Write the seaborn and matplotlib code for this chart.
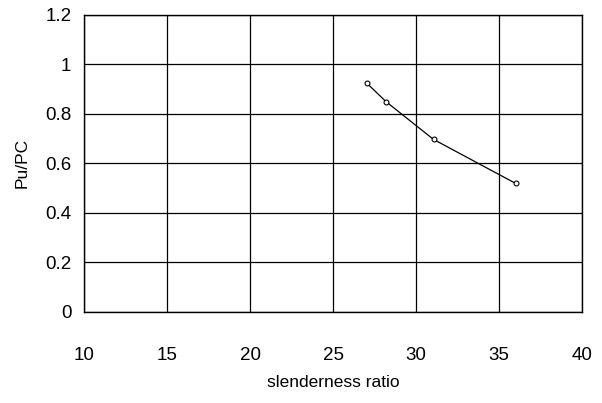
import pandas as pd
import seaborn as sns
import matplotlib.pyplot as plt

# Data
slenderness = [27.05, 28.2, 31.05, 36.0]
pu_pc = [0.923, 0.849, 0.697, 0.519]

x_ticks = [10, 15, 20, 25, 30, 35, 40]
y_ticks = [0, 0.2, 0.4, 0.6, 0.8, 1, 1.2]
y_tick_labels = ["0", "0.2", "0.4", "0.6", "0.8", "1", "1.2"]

df = pd.DataFrame({"slenderness ratio": slenderness, "Pu/PC": pu_pc})

sns.set_style("white")
plt.rcParams['font.family'] = ['Liberation Sans', 'DejaVu Sans']
plt.rcParams['text.color'] = 'black'
plt.rcParams['axes.labelcolor'] = 'black'
plt.rcParams['xtick.color'] = 'black'
plt.rcParams['ytick.color'] = 'black'

fig = plt.figure(figsize=(6.02, 4.03), dpi=100)
ax = fig.add_axes([0.1395, 0.226, 0.8275, 0.737])

sns.lineplot(data=df, x="slenderness ratio", y="Pu/PC", ax=ax,
             color="black", linewidth=0.9, marker="o", markersize=3.5,
             markerfacecolor="white", markeredgecolor="black",
             markeredgewidth=0.8)

ax.set_xlim(10, 40)
ax.set_ylim(0, 1.2)
ax.set_xticks(x_ticks)
ax.set_yticks(y_ticks)
ax.set_yticklabels(y_tick_labels)
ax.grid(True, color="black", linewidth=0.9)
ax.tick_params(axis="x", length=0, pad=25, labelsize=13.5)
ax.tick_params(axis="y", length=0, pad=9, labelsize=13.5)
for s in ax.spines.values():
    s.set_color("black")
    s.set_linewidth(1.0)

ax.set_xlabel("slenderness ratio", fontsize=12.5, labelpad=8)
ax.set_ylabel("Pu/PC", fontsize=12.5, labelpad=11)

fig.savefig("out.png", dpi=100)
